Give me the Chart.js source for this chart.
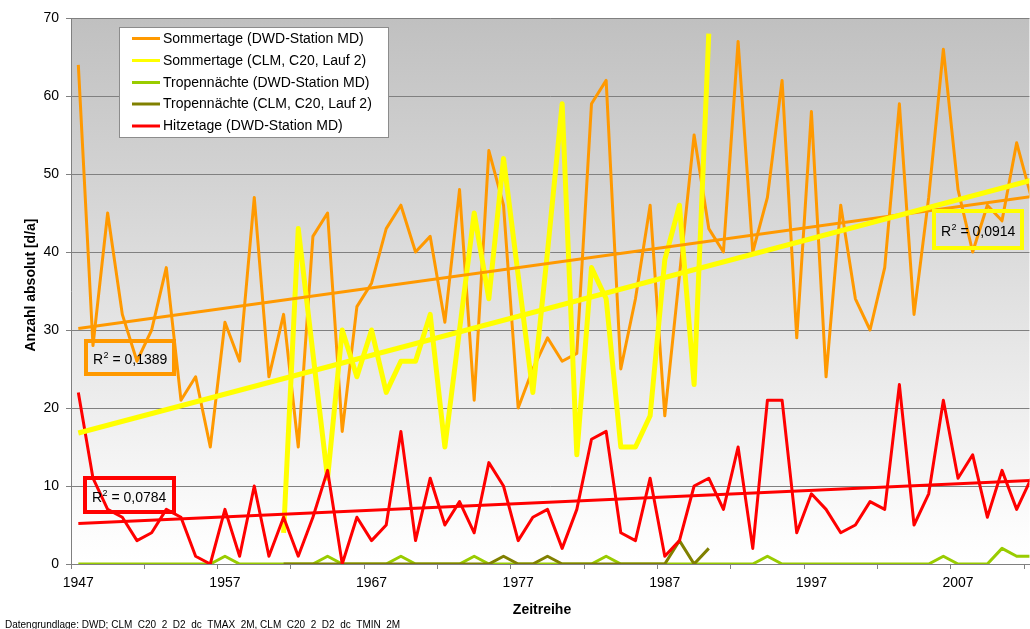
<!DOCTYPE html>
<html><head><meta charset="utf-8">
<script src="https://cdn.jsdelivr.net/npm/chart.js@4.4.1/dist/chart.umd.min.js"></script>
<style>html,body{margin:0;padding:0;background:#fff;overflow:hidden}#wrap{width:1030px;height:629px;position:relative}</style>
</head><body><div id="wrap"><canvas id="c" width="1030" height="629"></canvas></div>
<script>
// ---- data ----
const years = [1947,1948,1949,1950,1951,1952,1953,1954,1955,1956,
  1957,1958,1959,1960,1961,1962,1963,1964,1965,1966,
  1967,1968,1969,1970,1971,1972,1973,1974,1975,1976,
  1977,1978,1979,1980,1981,1982,1983,1984,1985,1986,
  1987,1988,1989,1990,1991,1992,1993,1994,1995,1996,
  1997,1998,1999,2000,2001,2002,2003,2004,2005,2006,
  2007,2008,2009,2010,2011,2012];
const sommertageDWD = [64,28,45,32,26,30,38,21,24,15,
  31,26,47,24,32,15,42,45,17,33,
  36,43,46,40,42,31,48,21,53,46,
  20,25,29,26,27,59,62,25,34,46,
  19,37,55,43,40,67,40,47,62,29,
  58,24,46,34,30,38,59,32,47,66,
  48,40,46,44,54,47];
const tropenDWD = [0,0,0,0,0,0,0,0,0,0,
  1,0,0,0,0,0,0,1,0,0,
  0,0,1,0,0,0,0,1,0,0,
  0,0,0,0,0,0,1,0,0,0,
  0,0,0,0,0,0,0,1,0,0,
  0,0,0,0,0,0,0,0,0,1,
  0,0,0,2,1,1];
const hitzeDWD = [22,11,7,6,3,4,7,6,1,0,
  7,1,10,1,6,1,6,12,0,6,
  3,5,17,3,11,5,8,4,13,10,
  3,6,7,2,7,16,17,4,3,11,
  1,3,10,11,7,15,2,21,21,4,
  9,7,4,5,8,7,23,5,9,21,
  11,14,6,12,7,11];
const yearsCLM = [1961,1962,1963,1964,1965,1966,1967,1968,1969,1970,
  1971,1972,1973,1974,1975,1976,1977,1978,1979,1980,
  1981,1982,1983,1984,1985,1986,1987,1988,1989,1990];
const sommertageCLM = [4,43,27,11,30,24,30,22,26,26,
  32,15,30,45,34,52,37,22,40,59,
  14,38,34,15,15,19,39,46,23,68];
const tropenCLM = [0,0,0,0,0,0,0,0,0,0,
  0,0,0,0,0,1,0,0,1,0,
  0,0,0,0,0,0,0,3,0,2];
// trend line end points
const trendYears = [1947, 2012];
const trendSommerDWD = [30.2, 47.1];
const trendSommerCLM = [16.8, 49.2];
const trendHitze = [5.2, 10.7];
// axis ticks
const xLabelYears = [1947,1957,1967,1977,1987,1997,2007];
const xTickMarks = [1946.5,1951.5,1956.5,1961.5,1966.5,1971.5,1976.5,1981.5,1986.5,1991.5,1996.5,2001.5,2006.5,2011.5];
const yTicks = [0,10,20,30,40,50,60,70];
const r2Labels = ['0,1389','0,0914','0,0784'];

const FONT = "'Liberation Sans', Arial, sans-serif";
const toXY = (xs, ys) => xs.map((x, i) => ({x: x, y: ys[i]}));
const COLORS = {orange:'#FF9900', yellow:'#FFFF00', green:'#99CC00', olive:'#808000', red:'#FF0000'};

const bgPlugin = {
  id:'bg',
  beforeDraw(chart){
    const a = chart.chartArea, c = chart.ctx;
    const g = c.createLinearGradient(0, a.top, 0, a.bottom);
    g.addColorStop(0, '#c0c0c0');
    g.addColorStop(0.95, '#fdfdfd');
    g.addColorStop(1, '#ffffff');
    c.save(); c.fillStyle = g; c.fillRect(a.left, a.top, a.right - a.left, a.bottom - a.top); c.restore();
  }
};

function drawR2(c, x, y, w, h, color, val, tx, ty){
  c.save();
  c.strokeStyle = color; c.lineWidth = 4;
  c.strokeRect(x + 2, y + 2, w - 4, h - 4);
  c.fillStyle = '#000';
  c.textBaseline = 'alphabetic';
  c.font = '14px ' + FONT;
  c.fillText('R', tx, ty);
  let rx = tx + c.measureText('R').width;
  c.font = '9px ' + FONT;
  c.fillText('2', rx + 0.5, ty - 6);
  rx += c.measureText('2').width + 0.5;
  c.font = '14px ' + FONT;
  c.fillText(' = ' + val, rx, ty);
  c.restore();
}

const overlayPlugin = {
  id:'overlay',
  afterDraw(chart){
    const c = chart.ctx;
    // legend
    c.save();
    c.fillStyle = '#fff'; c.fillRect(119, 27, 269, 110);
    c.strokeStyle = '#8c8c8c'; c.lineWidth = 1; c.strokeRect(119.5, 27.5, 269, 110);
    const rows = [38.5, 60.5, 82.5, 104, 126];
    let r = 0;
    chart.data.datasets.forEach(ds => {
      if (ds.isTrend) return;
      const y = rows[r++];
      c.strokeStyle = ds.borderColor; c.lineWidth = 3; c.lineCap = 'butt';
      c.beginPath(); c.moveTo(132, y); c.lineTo(160, y); c.stroke();
      c.fillStyle = '#000'; c.font = '14px ' + FONT; c.textBaseline = 'middle';
      c.fillText(ds.label, 163, y + 0.5);
    });
    c.restore();
    // R² boxes
    drawR2(c, 84, 339, 92, 37, COLORS.orange, r2Labels[0], 93, 364);
    drawR2(c, 932, 209, 92, 41, COLORS.yellow, r2Labels[1], 941, 236);
    drawR2(c, 83, 476, 93, 38, COLORS.red, r2Labels[2], 92, 502);
    // axis titles
    c.save();
    c.fillStyle = '#000';
    c.font = 'bold 14px ' + FONT;
    c.textAlign = 'center'; c.textBaseline = 'alphabetic';
    c.fillText('Zeitreihe', 542, 614);
    c.translate(35, 285); c.rotate(-Math.PI/2);
    c.fillText('Anzahl absolut [d/a]', 0, 0);
    c.restore();
    // footnote
    c.save();
    c.fillStyle = '#000'; c.font = '10px ' + FONT; c.textBaseline = 'alphabetic';
    c.fillText('Datengrundlage: DWD; CLM_C20_2_D2_dc_TMAX_2M, CLM_C20_2_D2_dc_TMIN_2M', 5, 628);
    c.restore();
  }
};

const XMIN = 1946.5, XMAX = 2011.87;
const ctx = document.getElementById('c').getContext('2d');
new Chart(ctx, {
  type:'line',
  data:{datasets:[
    {label:'Sommertage (DWD-Station MD)', data:toXY(years, sommertageDWD), borderColor:COLORS.orange, borderWidth:3, order:7},
    {label:'Sommertage (CLM, C20, Lauf 2)', data:toXY(yearsCLM, sommertageCLM), borderColor:COLORS.yellow, borderWidth:5, order:6},
    {label:'Tropennächte (DWD-Station MD)', data:toXY(years, tropenDWD), borderColor:COLORS.green, borderWidth:3, order:5},
    {label:'Tropennächte (CLM, C20, Lauf 2)', data:toXY(yearsCLM, tropenCLM), borderColor:COLORS.olive, borderWidth:3, order:4},
    {label:'Hitzetage (DWD-Station MD)', data:toXY(years, hitzeDWD), borderColor:COLORS.red, borderWidth:3, order:3},
    {label:'Trend Sommertage DWD', isTrend:true, data:toXY(trendYears, trendSommerDWD), borderColor:COLORS.orange, borderWidth:3, order:2},
    {label:'Trend Sommertage CLM', isTrend:true, data:toXY(trendYears, trendSommerCLM), borderColor:COLORS.yellow, borderWidth:5, order:1},
    {label:'Trend Hitzetage DWD', isTrend:true, data:toXY(trendYears, trendHitze), borderColor:COLORS.red, borderWidth:3, order:0}
  ]},
  options:{
    responsive:false, animation:false, devicePixelRatio:1,
    layout:{padding:{top:18, left:0, right:0, bottom:0}},
    elements:{point:{radius:0, hoverRadius:0}, line:{tension:0, fill:false, borderJoinStyle:'round'}},
    plugins:{legend:{display:false}, tooltip:{enabled:false}, title:{display:false}},
    scales:{
      x:{
        type:'linear', min:XMIN, max:XMAX,
        afterBuildTicks: s => { s.ticks = xTickMarks.concat(xLabelYears).sort((a,b)=>a-b).map(v => ({value:v})); },
        afterFit: s => { s.height = 65; },
        ticks:{autoSkip:false, maxRotation:0, minRotation:0, padding:6, color:'#000',
          font:{family:FONT, size:14},
          callback: v => xLabelYears.includes(v) ? String(v) : ''},
        grid:{drawOnChartArea:false, drawTicks:true, tickLength:5,
          tickColor: c => (c.tick && xLabelYears.includes(c.tick.value)) ? 'rgba(0,0,0,0)' : '#808080'},
        border:{display:true, color:'#808080', width:1}
      },
      y:{
        min:0, max:70,
        afterBuildTicks: s => { s.ticks = yTicks.map(v => ({value:v})); },
        afterFit: s => { s.width = 71; },
        ticks:{padding:7, color:'#000', font:{family:FONT, size:14}},
        grid:{color:'#808080', lineWidth:1, tickLength:5, tickColor:'#808080'},
        border:{display:true, color:'#808080', width:1}
      }
    }
  },
  plugins:[bgPlugin, overlayPlugin]
});
</script></body></html>
